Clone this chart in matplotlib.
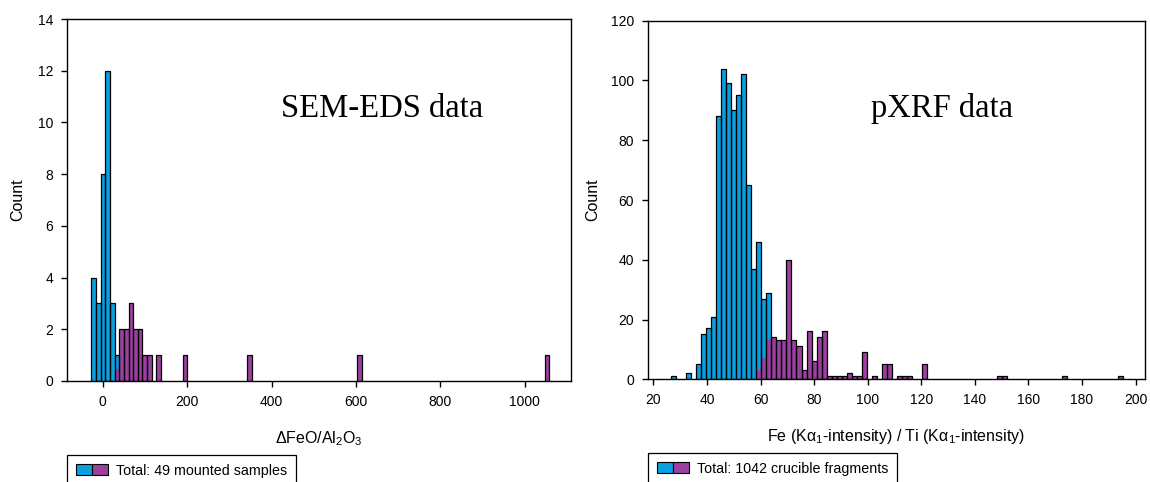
import numpy as np
import matplotlib.pyplot as plt
from matplotlib.patches import Patch
from matplotlib.legend_handler import HandlerTuple

plt.rcParams['font.family'] = 'Liberation Sans'
plt.rcParams['mathtext.fontset'] = 'custom'
plt.rcParams['mathtext.rm'] = 'Liberation Sans'
plt.rcParams['mathtext.it'] = 'Liberation Sans:italic'

blue = '#0aa0e0'
purple = '#9c40a0'

# SEM-EDS histogram: bin centres (bin width 11), counts per colour group
sem_width = 11
sem_x = [-21.5, -10.5, 0.5, 11.5, 22.5, 33.5, 44.5, 55.5, 66.5, 77.5, 88.5,
         99.5, 110.5, 131.5, 195, 347, 608, 1053]
sem_blue = [4, 3, 8, 12, 3, 0.55, 0, 0, 0, 0, 0, 0, 0, 0, 0, 0, 0, 0]
sem_purple = [0, 0, 0, 0, 0, 0.45, 2, 2, 3, 2, 2, 1, 1, 1, 1, 1, 1, 1]

# pXRF histogram: bins start at 26.6, width 1.873, given by bin index
xrf_start = 26.6
xrf_width = 1.873
xrf_blue_bins = [0, 3, 5, 6, 7, 8, 9, 10, 11, 12, 13, 14, 15, 16, 17, 18, 19]
xrf_blue = [1, 2, 5, 15, 17, 21, 88, 104, 99, 90, 95, 102, 65, 37, 43, 20, 16]
xrf_purple_bins = [17, 18, 19, 20, 21, 22, 23, 24, 25, 26, 27, 28, 29, 30,
                   31, 32, 33, 34, 35, 36, 37, 38, 40, 42, 43, 45, 46, 47,
                   50, 65, 66, 78, 89]
xrf_purple = [3, 7, 13, 14, 13, 13, 40, 13, 11, 3, 16, 6, 14, 16,
              1, 1, 1, 1, 2, 1, 1, 9, 1, 5, 5, 1, 1, 1,
              5, 1, 1, 1, 1]


def stacked_hist(ax, x, purple_vals, blue_vals, width):
    x = np.asarray(x, dtype=float)
    p = np.asarray(purple_vals, dtype=float)
    b = np.asarray(blue_vals, dtype=float)
    ax.bar(x, p, width=width, color=purple, linewidth=0)
    ax.bar(x, b, width=width, bottom=p, color=blue, linewidth=0)
    ax.bar(x, p + b, width=width, fill=False, edgecolor='black', linewidth=0.9)


def style_axis(ax):
    for s in ax.spines.values():
        s.set_linewidth(1.0)
    ax.tick_params(direction='out', length=4, width=1, labelsize=10, pad=6)


fig = plt.figure(figsize=(11.5, 4.82), dpi=100)
W, H = 1150, 482
ax1 = fig.add_axes([67 / W, 1 - 381 / H, 504 / W, 362 / H])
ax2 = fig.add_axes([648 / W, 1 - 379.3 / H, 497 / W, 358.6 / H])

# left panel
stacked_hist(ax1, sem_x, sem_purple, sem_blue, sem_width)
ax1.set_xlim(-85, 1110)
ax1.set_ylim(0, 14)
ax1.set_xticks(range(0, 1001, 200))
ax1.set_yticks(range(0, 15, 2))
style_axis(ax1)
ax1.set_ylabel('Count', fontsize=11.5, labelpad=9)
ax1.set_xlabel('ΔFeO/Al$_2$O$_3$', fontsize=11.5, labelpad=15)
ax1.text(0.626, 0.728, 'SEM-EDS data', transform=ax1.transAxes, ha='center',
         va='baseline', fontsize=23.5, family='Liberation Serif')

# right panel
xrf_pb = {k: v for k, v in zip(xrf_purple_bins, xrf_purple)}
all_bins = sorted(set(xrf_blue_bins) | set(xrf_purple_bins))
bd = {k: v for k, v in zip(xrf_blue_bins, xrf_blue)}
px = [xrf_start + xrf_width * (k + 0.5) for k in all_bins]
stacked_hist(ax2, px, [xrf_pb.get(k, 0) for k in all_bins],
             [bd.get(k, 0) for k in all_bins], xrf_width)
ax2.set_xlim(18, 203.5)
ax2.set_ylim(0, 120)
ax2.set_xticks(range(20, 201, 20))
ax2.set_yticks(range(0, 121, 20))
style_axis(ax2)
ax2.set_ylabel('Count', fontsize=11.5, labelpad=8)
ax2.set_xlabel('Fe (Kα$_1$-intensity) / Ti (Kα$_1$-intensity)', fontsize=11.5, labelpad=14)
ax2.text(0.591, 0.732, 'pXRF data', transform=ax2.transAxes, ha='center',
         va='baseline', fontsize=23.5, family='Liberation Serif')

# legends below each panel
handler = {tuple: HandlerTuple(ndivide=None, pad=0)}
for x0, y0, label in [(67, 455, 'Total: 49 mounted samples'),
                      (648, 453, 'Total: 1042 crucible fragments')]:
    h = (Patch(facecolor=blue, edgecolor='black', linewidth=0.8),
         Patch(facecolor=purple, edgecolor='black', linewidth=0.8))
    leg = fig.legend([h], [label], handler_map=handler, loc='upper left',
                     bbox_to_anchor=(x0 / W, 1 - y0 / H), bbox_transform=fig.transFigure,
                     borderaxespad=0, fancybox=False, edgecolor='black', framealpha=1,
                     fontsize=10.3, handlelength=2.3, handleheight=0.85,
                     handletextpad=0.55, borderpad=0.6)
    leg.get_frame().set_linewidth(0.9)

fig.savefig('out.png', dpi=100)
